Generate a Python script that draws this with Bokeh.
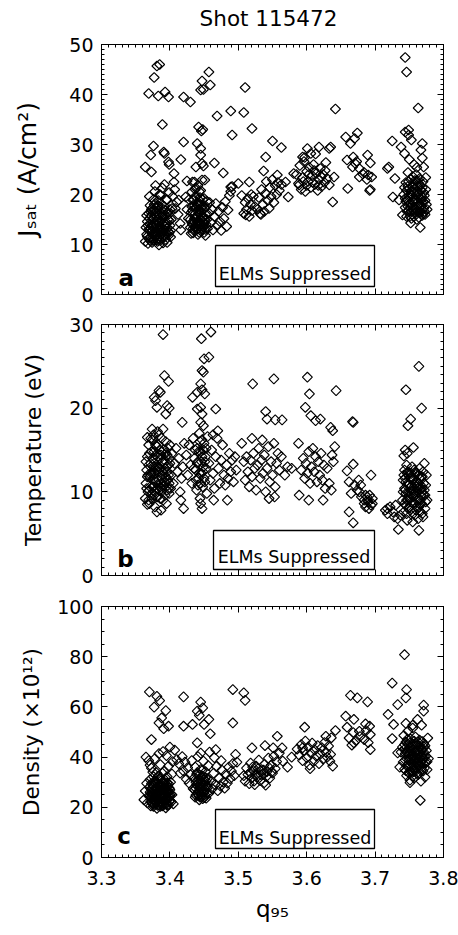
import math
from bokeh.plotting import figure
from bokeh.models import (Range1d, LinearAxis, SingleIntervalTicker, FixedTicker, Label,
                          BoxAnnotation, CustomJSTickFormatter, Div)
from bokeh.layouts import column
from bokeh.embed import file_html
from bokeh.resources import INLINE

FONT = "DejaVu Sans"

# ---------------- data ----------------
title_text = "Shot 115472"
q95_range = (3.3, 3.8)
q95_ticks = [3.3, 3.4, 3.5, 3.6, 3.7, 3.8]
jsat_range = (0, 50)
temp_range = (0, 30)
dens_range = (0, 100)
axis_titles = ["Jₛₐₜ (A/cm²)", "Temperature (eV)", "Density (×10¹²)"]
x_title = "q₉₅"
panel_letters = ["a", "b", "c"]
box_text = "ELMs Suppressed"

jsat_points = [
    (3.369, 40.2), (3.377, 43.4), (3.381, 45.7), (3.385, 46.0), (3.383, 39.7), (3.393, 40.5),
    (3.398, 39.5), (3.389, 34.0), (3.376, 29.7), (3.372, 27.9), (3.391, 28.5), (3.392, 28.2),
    (3.398, 26.5), (3.399, 26.0), (3.364, 25.5), (3.373, 24.5), (3.406, 24.2),
    (3.364, 10.6), (3.366, 12.0), (3.365, 13.4), (3.367, 14.6), (3.366, 15.8), (3.369, 11.2),
    (3.370, 12.8), (3.371, 14.0), (3.372, 16.5), (3.371, 17.8), (3.374, 10.4), (3.375, 11.9),
    (3.376, 13.2), (3.375, 15.1), (3.377, 16.9), (3.376, 19.0), (3.378, 20.6), (3.379, 12.3),
    (3.380, 13.9), (3.381, 15.5), (3.382, 17.4), (3.383, 18.8), (3.381, 10.9), (3.384, 9.9),
    (3.385, 11.6), (3.386, 13.1), (3.387, 14.7), (3.388, 16.2), (3.386, 19.9), (3.389, 21.3),
    (3.389, 12.2), (3.390, 10.3), (3.391, 15.4), (3.392, 17.6), (3.393, 13.5), (3.394, 11.0),
    (3.395, 14.4), (3.396, 18.9), (3.397, 12.6), (3.398, 16.0), (3.399, 20.4), (3.400, 13.8),
    (3.401, 11.5), (3.402, 15.0), (3.403, 17.2), (3.404, 19.6), (3.392, 22.0), (3.379, 21.8),
    (3.383, 12.8), (3.374, 13.9),
    (3.368, 10.2), (3.369, 13.0), (3.370, 15.2), (3.372, 11.4), (3.373, 12.6), (3.373, 15.8),
    (3.374, 17.2), (3.376, 11.0), (3.377, 12.4), (3.378, 14.2), (3.378, 15.6), (3.380, 11.8),
    (3.380, 16.6), (3.382, 10.6), (3.382, 12.0), (3.383, 14.4), (3.384, 16.0), (3.385, 13.6),
    (3.386, 10.8), (3.387, 12.4), (3.388, 18.0), (3.389, 14.2), (3.390, 11.6), (3.391, 13.0),
    (3.392, 12.0), (3.393, 15.8), (3.394, 14.0), (3.395, 12.2), (3.396, 10.4), (3.397, 16.4),
    (3.398, 11.8), (3.399, 14.8), (3.400, 17.0), (3.401, 12.8), (3.379, 18.2), (3.385, 20.0),
    (3.370, 19.6), (3.395, 19.0),
    (3.367, 11.6), (3.368, 13.8), (3.369, 16.2), (3.371, 10.8), (3.372, 13.2), (3.373, 17.0),
    (3.375, 10.8), (3.375, 13.6), (3.376, 15.2), (3.377, 18.0), (3.378, 11.6), (3.379, 16.4),
    (3.380, 14.6), (3.381, 12.6), (3.382, 15.0), (3.383, 17.8), (3.384, 11.0), (3.384, 13.2),
    (3.385, 15.4), (3.386, 12.0), (3.387, 17.0), (3.388, 13.4), (3.389, 15.8), (3.390, 12.8),
    (3.391, 17.0), (3.393, 11.6), (3.394, 16.8), (3.396, 13.2), (3.397, 15.0), (3.399, 12.4),
    (3.407, 21.0), (3.410, 18.5), (3.412, 16.0), (3.415, 14.2), (3.416, 12.9), (3.413, 18.9),
    (3.423, 19.5), (3.408, 17.2), (3.406, 22.5),
    (3.420, 39.5), (3.430, 38.5), (3.445, 40.9), (3.447, 42.7), (3.449, 41.0), (3.457, 44.5),
    (3.459, 41.9), (3.469, 35.7), (3.442, 33.5), (3.446, 32.7), (3.448, 33.0), (3.420, 30.5),
    (3.440, 30.2), (3.445, 29.2), (3.445, 27.9), (3.447, 26.2), (3.449, 25.7), (3.438, 25.5),
    (3.416, 27.0), (3.465, 26.3), (3.478, 24.3), (3.425, 22.7), (3.433, 22.5), (3.451, 22.9),
    (3.425, 17.0), (3.427, 15.2), (3.428, 19.0), (3.430, 13.4), (3.431, 16.4), (3.432, 20.5),
    (3.434, 12.3), (3.435, 14.6), (3.436, 17.8), (3.437, 19.6), (3.438, 21.3), (3.439, 13.0),
    (3.440, 15.8), (3.441, 12.0), (3.442, 17.0), (3.443, 18.8), (3.444, 14.2), (3.445, 20.8),
    (3.446, 12.6), (3.447, 15.4), (3.448, 16.9), (3.449, 13.6), (3.450, 19.2), (3.451, 14.9),
    (3.452, 11.8), (3.453, 17.6), (3.454, 15.0), (3.455, 13.2), (3.457, 16.3), (3.458, 18.4),
    (3.460, 14.4), (3.462, 17.0), (3.463, 12.9), (3.465, 15.6), (3.467, 18.2), (3.469, 13.8),
    (3.471, 16.6), (3.473, 14.6), (3.475, 12.8), (3.477, 17.4), (3.479, 15.2), (3.481, 18.6),
    (3.483, 13.6), (3.485, 16.9), (3.487, 19.8), (3.489, 20.6), (3.491, 21.6), (3.447, 22.9),
    (3.436, 22.5), (3.441, 21.8), (3.500, 22.2), (3.489, 21.5),
    (3.430, 15.0), (3.431, 12.2), (3.432, 17.6), (3.433, 14.0), (3.434, 18.8), (3.435, 12.8),
    (3.436, 16.0), (3.437, 13.6), (3.438, 15.2), (3.439, 17.4), (3.440, 13.8), (3.441, 18.2),
    (3.442, 14.6), (3.443, 12.4), (3.444, 16.4), (3.445, 18.0), (3.446, 14.0), (3.447, 13.2),
    (3.448, 19.0), (3.449, 15.6), (3.450, 12.4), (3.451, 17.2), (3.452, 16.0), (3.453, 14.0),
    (3.454, 18.6), (3.437, 21.0), (3.443, 20.6),
    (3.432, 14.4), (3.433, 16.8), (3.434, 13.2), (3.435, 19.0), (3.436, 15.2), (3.437, 17.2),
    (3.438, 13.6), (3.439, 15.6), (3.440, 18.0), (3.441, 14.2), (3.442, 16.2), (3.443, 13.8),
    (3.444, 19.4), (3.445, 15.0), (3.446, 17.4), (3.447, 13.6), (3.448, 15.2), (3.449, 17.8),
    (3.450, 14.2), (3.452, 13.0),
    (3.505, 19.8), (3.508, 16.2), (3.510, 18.4), (3.512, 17.0), (3.514, 19.2), (3.516, 15.6),
    (3.518, 18.0), (3.520, 16.8), (3.522, 19.6), (3.524, 17.6), (3.511, 15.9), (3.519, 20.0),
    (3.528, 17.0), (3.530, 19.4), (3.532, 16.2), (3.534, 21.0), (3.536, 18.0), (3.538, 16.6),
    (3.540, 20.2), (3.541, 22.6), (3.543, 18.8), (3.545, 17.2), (3.546, 21.4), (3.548, 19.6),
    (3.550, 23.0), (3.552, 18.4), (3.554, 21.8), (3.556, 20.0), (3.558, 22.4), (3.560, 20.8),
    (3.563, 22.0), (3.537, 24.7), (3.533, 16.0),
    (3.550, 30.7), (3.563, 29.4), (3.540, 27.5), (3.557, 23.9), (3.569, 22.5), (3.573, 19.5),
    (3.520, 33.2), (3.508, 36.4), (3.510, 41.4), (3.489, 36.7), (3.491, 31.9), (3.516, 22.5),
    (3.585, 24.0), (3.588, 22.2), (3.590, 25.8), (3.592, 21.0), (3.594, 23.4), (3.596, 26.6),
    (3.598, 20.6), (3.600, 24.6), (3.602, 22.6), (3.604, 25.4), (3.606, 21.4), (3.608, 23.8),
    (3.610, 26.0), (3.612, 22.0), (3.614, 24.2), (3.616, 20.8), (3.618, 23.0), (3.620, 25.2),
    (3.622, 21.6), (3.624, 24.0), (3.626, 22.4), (3.628, 26.4), (3.630, 23.2), (3.597, 27.4),
    (3.606, 28.2), (3.595, 22.6), (3.603, 24.0), (3.609, 22.4), (3.611, 24.8), (3.617, 21.8),
    (3.621, 23.6), (3.627, 24.8), (3.600, 21.8),
    (3.581, 24.2), (3.601, 29.2), (3.594, 27.5), (3.613, 28.1), (3.618, 29.5), (3.635, 29.5),
    (3.633, 29.2), (3.642, 37.1), (3.638, 18.5), (3.633, 21.9), (3.640, 23.5), (3.589, 21.9),
    (3.657, 31.5), (3.664, 30.2), (3.674, 32.3), (3.670, 31.2), (3.659, 26.9), (3.668, 27.5),
    (3.660, 21.2), (3.667, 25.5), (3.671, 26.2), (3.677, 25.2), (3.689, 27.9), (3.693, 26.3),
    (3.684, 24.4), (3.690, 23.9), (3.693, 21.0), (3.695, 23.5), (3.677, 23.5), (3.682, 24.1),
    (3.673, 26.6), (3.688, 23.0), (3.692, 20.8),
    (3.720, 25.5), (3.725, 30.7), (3.718, 25.2), (3.729, 23.2), (3.726, 19.5), (3.735, 18.9),
    (3.740, 15.9), (3.744, 47.4), (3.746, 44.5), (3.763, 37.3), (3.744, 32.5), (3.749, 32.9),
    (3.749, 31.9), (3.753, 30.9), (3.769, 30.2), (3.767, 28.9), (3.769, 27.3), (3.771, 25.5),
    (3.738, 29.5), (3.743, 28.2), (3.766, 13.4), (3.752, 14.3),
    (3.742, 20.0), (3.744, 17.4), (3.745, 22.4), (3.746, 15.6), (3.747, 19.0), (3.748, 24.4),
    (3.749, 16.8), (3.750, 21.2), (3.751, 18.2), (3.752, 23.0), (3.753, 15.2), (3.754, 19.8),
    (3.755, 17.0), (3.756, 22.0), (3.757, 20.6), (3.758, 16.2), (3.759, 18.8), (3.760, 24.0),
    (3.761, 15.0), (3.762, 21.6), (3.763, 17.8), (3.764, 19.4), (3.765, 23.2), (3.766, 16.4),
    (3.767, 20.8), (3.768, 18.4), (3.769, 15.8), (3.770, 22.6), (3.771, 17.2), (3.772, 19.8),
    (3.773, 16.0), (3.774, 21.0), (3.775, 18.0), (3.757, 26.0), (3.750, 27.0), (3.761, 25.4),
    (3.743, 21.4), (3.745, 18.6), (3.747, 16.6), (3.748, 21.6), (3.749, 19.6), (3.751, 15.6),
    (3.752, 17.4), (3.753, 20.6), (3.755, 23.6), (3.756, 18.6), (3.757, 15.6), (3.758, 21.2),
    (3.759, 17.0), (3.760, 19.8), (3.761, 22.8), (3.762, 16.6), (3.763, 20.2), (3.764, 15.4),
    (3.765, 18.2), (3.766, 21.8), (3.767, 17.6), (3.768, 19.6), (3.770, 16.2), (3.771, 20.4),
    (3.773, 18.8), (3.774, 23.4), (3.776, 17.0),
    (3.744, 19.2), (3.746, 20.8), (3.748, 17.6), (3.749, 22.6), (3.750, 18.6), (3.752, 20.0),
    (3.753, 16.6), (3.754, 21.6), (3.756, 16.8), (3.757, 19.0), (3.758, 22.8), (3.760, 17.0),
    (3.761, 20.4), (3.763, 18.6), (3.764, 22.2), (3.765, 16.6), (3.767, 19.2), (3.769, 21.4),
    (3.770, 18.6), (3.772, 16.6),
]

temp_points = [
    (3.390, 28.8), (3.392, 23.9), (3.398, 23.2), (3.384, 22.1), (3.386, 21.9), (3.377, 21.3),
    (3.379, 20.9), (3.381, 20.1), (3.396, 20.3), (3.399, 20.0), (3.394, 19.3), (3.390, 17.5),
    (3.374, 17.5), (3.367, 16.5), (3.418, 18.3),
    (3.446, 28.3), (3.460, 29.1), (3.450, 25.9), (3.457, 26.1), (3.447, 24.5), (3.449, 24.3),
    (3.445, 22.9), (3.447, 22.2), (3.440, 21.9), (3.451, 21.7), (3.433, 21.3), (3.467, 19.9),
    (3.440, 19.9), (3.445, 20.1), (3.447, 19.3), (3.445, 18.3), (3.449, 17.9),
    (3.521, 22.9), (3.552, 23.5), (3.540, 19.6), (3.554, 18.6), (3.564, 18.6), (3.542, 18.7),
    (3.601, 23.7), (3.604, 21.7), (3.598, 20.1), (3.606, 19.1), (3.620, 18.7), (3.643, 22.1),
    (3.613, 18.5), (3.635, 17.7), (3.638, 17.3), (3.668, 18.3), (3.667, 18.4),
    (3.745, 22.2), (3.764, 25.0), (3.768, 20.0), (3.752, 18.7), (3.748, 17.9), (3.756, 15.3),
    (3.742, 14.3),
    (3.662, 7.6), (3.668, 6.3), (3.734, 5.5), (3.764, 5.4), (3.718, 8.0), (3.728, 7.0),
    (3.624, 9.0), (3.589, 9.6), (3.603, 9.0), (3.484, 9.0), (3.464, 9.0), (3.447, 8.0),
    (3.420, 8.0), (3.381, 7.6), (3.367, 8.5),
    (3.694, 12.0), (3.696, 8.6), (3.689, 9.0), (3.659, 12.5), (3.668, 13.3), (3.677, 10.0),
    (3.679, 10.8), (3.686, 9.6), (3.684, 9.0),
    (3.364, 9.2), (3.365, 11.0), (3.366, 12.6), (3.367, 14.2), (3.368, 10.0), (3.369, 15.6),
    (3.370, 8.6), (3.371, 11.8), (3.372, 13.4), (3.373, 9.6), (3.374, 16.2), (3.375, 12.2),
    (3.376, 10.6), (3.377, 14.8), (3.378, 8.2), (3.379, 13.0), (3.380, 11.2), (3.381, 15.4),
    (3.382, 9.4), (3.383, 12.4), (3.384, 16.8), (3.385, 10.2), (3.386, 14.0), (3.387, 7.8),
    (3.388, 11.6), (3.389, 13.6), (3.390, 9.0), (3.391, 15.0), (3.392, 10.8), (3.393, 12.8),
    (3.394, 16.0), (3.395, 8.6), (3.396, 14.4), (3.397, 11.4), (3.398, 13.2), (3.399, 9.8),
    (3.400, 15.6), (3.401, 10.4), (3.402, 12.0), (3.403, 14.6), (3.405, 11.0), (3.407, 13.4),
    (3.409, 15.2), (3.411, 12.4), (3.413, 14.0), (3.415, 10.0), (3.417, 11.6), (3.419, 13.0),
    (3.421, 15.8), (3.416, 9.0),
    (3.365, 13.6), (3.366, 10.4), (3.368, 12.0), (3.369, 9.0), (3.370, 14.6), (3.371, 10.6),
    (3.372, 16.4), (3.373, 12.2), (3.374, 9.2), (3.375, 14.0), (3.376, 11.6), (3.377, 13.4),
    (3.378, 10.0), (3.379, 15.6), (3.380, 9.4), (3.381, 12.6), (3.382, 14.2), (3.383, 10.8),
    (3.384, 13.0), (3.385, 15.0), (3.386, 9.2), (3.387, 11.0), (3.388, 14.8), (3.389, 10.2),
    (3.390, 12.4), (3.391, 11.2), (3.392, 13.8), (3.393, 9.6), (3.394, 11.8), (3.395, 13.0),
    (3.396, 10.2), (3.397, 15.2), (3.398, 12.0), (3.399, 11.0), (3.400, 13.4), (3.382, 17.2),
    (3.388, 16.4), (3.376, 16.8),
    (3.367, 11.8), (3.369, 13.2), (3.370, 10.2), (3.372, 12.0), (3.373, 14.8), (3.375, 10.6),
    (3.376, 13.0), (3.377, 9.6), (3.378, 12.2), (3.379, 14.4), (3.381, 10.4), (3.382, 13.0),
    (3.383, 15.6), (3.384, 11.4), (3.385, 12.8), (3.386, 10.6), (3.387, 14.4), (3.389, 12.0),
    (3.390, 10.6), (3.391, 13.4), (3.393, 11.2), (3.394, 14.6), (3.396, 12.4), (3.398, 10.4),
    (3.399, 14.0),
    (3.424, 14.4), (3.426, 12.0), (3.428, 15.6), (3.430, 13.2), (3.432, 11.0), (3.434, 16.4),
    (3.436, 14.0), (3.438, 12.6), (3.439, 10.2), (3.440, 15.2), (3.441, 13.6), (3.442, 11.6),
    (3.443, 17.0), (3.444, 9.2), (3.445, 14.8), (3.446, 12.2), (3.447, 16.2), (3.448, 10.6),
    (3.449, 13.0), (3.450, 15.8), (3.451, 11.2), (3.452, 14.2), (3.453, 12.8), (3.454, 9.8),
    (3.455, 16.6), (3.445, 8.6),
    (3.435, 12.8), (3.437, 15.0), (3.438, 11.4), (3.440, 13.4), (3.441, 10.8), (3.442, 14.8),
    (3.443, 12.2), (3.444, 16.0), (3.445, 11.0), (3.446, 13.6), (3.447, 14.2), (3.448, 12.4),
    (3.449, 15.0), (3.450, 11.6), (3.451, 13.6), (3.453, 15.2),
    (3.457, 13.4), (3.459, 11.4), (3.461, 15.0), (3.463, 12.2), (3.465, 10.4), (3.467, 14.2),
    (3.469, 16.4), (3.471, 12.8), (3.473, 11.0), (3.475, 13.8), (3.477, 15.6), (3.479, 12.0),
    (3.481, 10.8), (3.483, 13.2), (3.485, 11.6), (3.487, 14.6), (3.489, 12.4), (3.491, 13.8),
    (3.493, 11.2), (3.495, 14.2), (3.497, 12.6), (3.470, 17.3), (3.463, 16.8),
    (3.505, 15.8), (3.508, 13.6), (3.510, 11.4), (3.512, 14.2), (3.514, 12.4), (3.516, 10.6),
    (3.518, 13.8), (3.520, 11.8), (3.522, 14.6), (3.524, 12.8), (3.526, 10.2), (3.528, 13.2),
    (3.530, 15.2), (3.532, 11.6), (3.534, 13.8), (3.536, 12.2), (3.538, 14.4), (3.540, 10.0),
    (3.542, 12.8), (3.544, 15.4), (3.546, 11.2), (3.548, 13.6), (3.550, 12.0), (3.552, 15.8),
    (3.554, 10.6), (3.556, 13.4), (3.558, 14.6), (3.560, 12.6), (3.545, 9.2), (3.553, 9.4),
    (3.520, 16.4), (3.535, 16.2),
    (3.563, 14.2), (3.568, 12.0), (3.572, 13.0), (3.578, 12.8),
    (3.588, 15.8), (3.592, 12.6), (3.595, 14.0), (3.597, 11.6), (3.599, 13.4), (3.601, 12.2),
    (3.603, 14.8), (3.605, 11.0), (3.607, 13.0), (3.609, 15.2), (3.611, 12.4), (3.613, 14.2),
    (3.615, 11.2), (3.617, 13.6), (3.619, 12.0), (3.621, 14.6), (3.623, 11.4), (3.625, 13.2),
    (3.627, 10.4), (3.630, 12.8), (3.633, 11.0), (3.636, 10.2), (3.639, 13.6), (3.641, 15.4),
    (3.637, 14.4),
    (3.662, 11.2), (3.665, 9.8), (3.670, 10.8), (3.674, 10.2), (3.680, 9.4), (3.684, 8.6),
    (3.686, 8.2), (3.688, 9.4), (3.690, 8.8), (3.692, 9.6), (3.694, 8.4), (3.696, 9.2),
    (3.691, 8.0), (3.676, 11.4),
    (3.715, 7.8), (3.718, 7.4), (3.722, 8.2), (3.726, 7.6), (3.730, 8.4), (3.733, 6.8),
    (3.737, 7.2),
    (3.740, 9.0), (3.741, 11.4), (3.742, 7.6), (3.743, 12.6), (3.744, 10.2), (3.745, 8.4),
    (3.746, 13.2), (3.747, 6.6), (3.748, 11.0), (3.749, 9.4), (3.750, 12.2), (3.751, 7.8),
    (3.752, 10.6), (3.753, 8.8), (3.754, 13.0), (3.755, 6.4), (3.756, 11.6), (3.757, 9.8),
    (3.758, 7.2), (3.759, 12.4), (3.760, 10.0), (3.761, 8.2), (3.762, 11.2), (3.763, 6.8),
    (3.764, 9.2), (3.765, 12.8), (3.766, 7.6), (3.767, 10.4), (3.768, 8.6), (3.769, 11.8),
    (3.770, 7.0), (3.771, 9.6), (3.772, 13.4), (3.773, 8.0), (3.774, 10.8), (3.775, 12.0),
    (3.776, 9.0), (3.747, 14.6), (3.744, 15.0),
    (3.741, 10.0), (3.742, 12.0), (3.743, 8.6), (3.744, 11.6), (3.745, 9.8), (3.746, 7.4),
    (3.747, 12.2), (3.748, 9.0), (3.749, 10.8), (3.750, 8.2), (3.751, 11.6), (3.752, 9.4),
    (3.753, 12.2), (3.754, 7.6), (3.755, 10.2), (3.756, 8.6), (3.757, 12.6), (3.758, 9.6),
    (3.759, 11.0), (3.760, 7.8), (3.761, 10.6), (3.762, 9.0), (3.763, 12.0), (3.764, 8.2),
    (3.765, 10.6), (3.766, 9.0), (3.767, 11.8), (3.768, 10.0), (3.769, 7.4), (3.770, 12.4),
    (3.772, 10.2), (3.774, 8.8),
    (3.743, 10.4), (3.745, 11.2), (3.746, 9.0), (3.748, 12.4), (3.749, 8.0), (3.750, 10.0),
    (3.752, 11.8), (3.753, 9.8), (3.755, 11.4), (3.756, 9.4), (3.758, 10.8), (3.759, 8.6),
    (3.761, 12.2), (3.762, 10.4), (3.764, 11.0), (3.765, 8.6), (3.767, 9.6), (3.769, 10.6),
    (3.771, 11.0), (3.773, 9.6),
]

dens_points = [
    (3.370, 66.0), (3.381, 64.2), (3.377, 59.9), (3.385, 62.5), (3.384, 53.6), (3.388, 55.6),
    (3.394, 58.5), (3.391, 51.3), (3.398, 52.3), (3.373, 47.0), (3.365, 40.0), (3.371, 36.8),
    (3.420, 64.0), (3.420, 52.3), (3.433, 53.0), (3.440, 58.3), (3.445, 61.9), (3.448, 59.6),
    (3.443, 56.6), (3.450, 53.0), (3.457, 55.0), (3.459, 49.3), (3.440, 45.7), (3.467, 43.0),
    (3.492, 66.9), (3.492, 53.6), (3.508, 65.6), (3.510, 62.6), (3.496, 41.1),
    (3.520, 43.7), (3.539, 44.6), (3.557, 48.3), (3.551, 43.7), (3.564, 43.7),
    (3.597, 51.9), (3.594, 43.7), (3.657, 56.3), (3.664, 64.6), (3.674, 63.6), (3.689, 62.0),
    (3.669, 55.0), (3.659, 51.9), (3.677, 50.3), (3.686, 53.2), (3.692, 52.3), (3.693, 49.0),
    (3.693, 43.0), (3.666, 44.8), (3.669, 45.7), (3.642, 50.6), (3.636, 47.7), (3.638, 36.4),
    (3.635, 41.1), (3.628, 48.3),
    (3.743, 80.8), (3.725, 69.5), (3.746, 66.9), (3.745, 63.6), (3.733, 60.9), (3.719, 57.0),
    (3.727, 53.0), (3.755, 52.7), (3.768, 52.7), (3.771, 60.7), (3.771, 58.3), (3.725, 47.4),
    (3.733, 41.7), (3.766, 22.8), (3.751, 29.8),
    (3.362, 23.0), (3.364, 26.5), (3.366, 29.5), (3.367, 21.8), (3.369, 24.6), (3.370, 28.0),
    (3.371, 31.0), (3.372, 20.6), (3.373, 23.4), (3.374, 26.0), (3.375, 29.0), (3.376, 32.2),
    (3.377, 21.2), (3.378, 24.0), (3.379, 27.4), (3.380, 30.2), (3.381, 19.6), (3.382, 22.6),
    (3.383, 25.6), (3.384, 28.6), (3.385, 31.6), (3.386, 20.4), (3.387, 23.8), (3.388, 26.8),
    (3.389, 29.6), (3.390, 21.6), (3.391, 24.8), (3.392, 27.8), (3.393, 30.8), (3.394, 19.8),
    (3.395, 22.8), (3.396, 25.8), (3.397, 28.4), (3.398, 21.0), (3.399, 24.2), (3.400, 27.0),
    (3.401, 30.0), (3.402, 22.2), (3.403, 25.0), (3.405, 21.4), (3.380, 33.8), (3.373, 35.6),
    (3.386, 37.0), (3.392, 34.4), (3.398, 36.4), (3.404, 38.2), (3.378, 39.4), (3.395, 40.6),
    (3.390, 42.2), (3.400, 44.0), (3.384, 41.4), (3.369, 38.6), (3.407, 42.8), (3.410, 39.0),
    (3.413, 37.4), (3.403, 33.2),
    (3.372, 24.0), (3.373, 27.2), (3.374, 22.0), (3.375, 25.6), (3.376, 20.4), (3.376, 28.6),
    (3.377, 23.2), (3.378, 26.4), (3.379, 21.8), (3.379, 30.6), (3.380, 24.8), (3.381, 27.6),
    (3.382, 20.8), (3.382, 29.4), (3.383, 23.0), (3.384, 26.0), (3.385, 21.8), (3.385, 24.2),
    (3.386, 28.0), (3.387, 30.6), (3.387, 22.4), (3.388, 25.0), (3.389, 20.6), (3.389, 27.0),
    (3.390, 23.6), (3.391, 29.2), (3.392, 21.2), (3.392, 25.6), (3.393, 27.4), (3.394, 23.4),
    (3.395, 26.6), (3.396, 20.8), (3.396, 29.6), (3.397, 23.6), (3.398, 25.8), (3.399, 27.6),
    (3.400, 22.6), (3.401, 25.4), (3.383, 32.4), (3.389, 33.6), (3.375, 34.0), (3.396, 32.2),
    (3.371, 26.0), (3.372, 22.2), (3.373, 29.4), (3.374, 24.6), (3.375, 21.4), (3.376, 26.8),
    (3.377, 29.8), (3.378, 22.6), (3.379, 25.2), (3.380, 28.0), (3.381, 23.2), (3.382, 26.2),
    (3.383, 28.6), (3.384, 21.0), (3.385, 26.6), (3.386, 23.2), (3.387, 27.8), (3.388, 21.6),
    (3.389, 24.4), (3.390, 28.4), (3.391, 22.4), (3.392, 30.0), (3.393, 24.6), (3.394, 26.4),
    (3.395, 21.4), (3.396, 24.0), (3.397, 26.8), (3.398, 29.4), (3.399, 22.4), (3.400, 24.8),
    (3.420, 34.4), (3.422, 38.0), (3.424, 31.2), (3.426, 35.8), (3.428, 29.6), (3.430, 33.0),
    (3.432, 38.6), (3.434, 27.4), (3.436, 31.8), (3.437, 36.0), (3.438, 24.8), (3.439, 29.0),
    (3.440, 33.8), (3.441, 40.2), (3.442, 26.4), (3.443, 23.0), (3.444, 30.6), (3.445, 35.0),
    (3.446, 27.8), (3.447, 24.2), (3.448, 32.4), (3.449, 38.4), (3.450, 26.0), (3.451, 29.8),
    (3.452, 34.2), (3.453, 23.6), (3.454, 28.4), (3.455, 31.4), (3.456, 36.6), (3.457, 25.6),
    (3.458, 42.0), (3.445, 41.6), (3.415, 33.6), (3.418, 40.2),
    (3.436, 27.0), (3.437, 24.0), (3.438, 30.0), (3.439, 33.2), (3.440, 25.6), (3.441, 28.2),
    (3.442, 31.2), (3.443, 26.6), (3.444, 24.0), (3.445, 29.4), (3.446, 32.2), (3.447, 26.6),
    (3.448, 23.4), (3.449, 28.6), (3.450, 31.0), (3.451, 25.0), (3.452, 27.2), (3.453, 30.4),
    (3.454, 25.6), (3.455, 27.8),
    (3.438, 27.6), (3.440, 30.4), (3.442, 24.6), (3.444, 27.8), (3.446, 25.2), (3.448, 29.8),
    (3.450, 23.8), (3.452, 31.8), (3.447, 34.6), (3.443, 32.8),
    (3.460, 30.2), (3.462, 27.4), (3.464, 33.6), (3.466, 29.0), (3.468, 36.2), (3.470, 26.6),
    (3.472, 31.6), (3.474, 28.4), (3.476, 34.8), (3.478, 30.0), (3.480, 27.6), (3.482, 33.2),
    (3.484, 29.6), (3.486, 36.0), (3.488, 31.4), (3.490, 34.4), (3.492, 37.4), (3.494, 32.6),
    (3.465, 39.8), (3.475, 38.6), (3.498, 38.0),
    (3.508, 32.6), (3.510, 30.4), (3.512, 35.6), (3.514, 33.0), (3.516, 29.4), (3.518, 37.6),
    (3.520, 31.8), (3.522, 34.6), (3.524, 29.0), (3.526, 36.4), (3.528, 32.2), (3.530, 38.8),
    (3.532, 30.6), (3.534, 35.0), (3.536, 33.2), (3.538, 37.0), (3.540, 28.8), (3.542, 34.2),
    (3.544, 39.6), (3.546, 31.6), (3.548, 36.8), (3.550, 33.6), (3.552, 40.4), (3.554, 35.4),
    (3.556, 38.2), (3.538, 29.8), (3.560, 41.6), (3.565, 38.4), (3.572, 36.0), (3.578, 40.0),
    (3.517, 33.8), (3.521, 36.0), (3.525, 32.6), (3.529, 35.4), (3.533, 33.0), (3.537, 34.8),
    (3.541, 32.2), (3.545, 35.8), (3.549, 34.2), (3.523, 30.4),
    (3.586, 43.2), (3.589, 40.8), (3.592, 45.0), (3.594, 38.6), (3.596, 42.4), (3.598, 46.4),
    (3.600, 39.8), (3.602, 44.0), (3.604, 36.8), (3.606, 41.6), (3.608, 45.6), (3.610, 38.2),
    (3.612, 42.8), (3.614, 40.4), (3.616, 44.6), (3.618, 37.4), (3.620, 41.2), (3.622, 43.8),
    (3.624, 39.2), (3.626, 45.8), (3.628, 42.0), (3.630, 40.0), (3.632, 44.4), (3.634, 38.4),
    (3.605, 35.4),
    (3.662, 47.6), (3.668, 49.8), (3.672, 46.6), (3.678, 48.2), (3.684, 47.0), (3.690, 45.8),
    (3.687, 50.6),
    (3.740, 44.0), (3.741, 38.0), (3.742, 48.6), (3.743, 35.2), (3.744, 41.4), (3.745, 46.0),
    (3.746, 32.6), (3.747, 39.2), (3.748, 50.4), (3.749, 36.4), (3.750, 43.6), (3.751, 30.8),
    (3.752, 47.2), (3.753, 34.0), (3.754, 40.6), (3.755, 45.2), (3.756, 37.2), (3.757, 31.6),
    (3.758, 42.4), (3.759, 48.0), (3.760, 35.6), (3.761, 39.8), (3.762, 44.8), (3.763, 33.0),
    (3.764, 41.0), (3.765, 46.8), (3.766, 36.8), (3.767, 30.4), (3.768, 43.0), (3.769, 38.6),
    (3.770, 34.4), (3.771, 45.4), (3.772, 40.2), (3.773, 32.0), (3.774, 37.8), (3.775, 42.6),
    (3.776, 35.0), (3.777, 47.6), (3.778, 39.4), (3.755, 51.6), (3.745, 53.4), (3.762, 55.0),
    (3.738, 42.0), (3.736, 36.0),
    (3.743, 45.0), (3.744, 38.8), (3.745, 34.6), (3.746, 42.4), (3.747, 47.0), (3.748, 37.0),
    (3.749, 40.6), (3.750, 33.6), (3.751, 45.6), (3.752, 39.0), (3.753, 42.4), (3.754, 36.0),
    (3.755, 32.4), (3.756, 44.0), (3.757, 39.6), (3.758, 36.0), (3.759, 41.6), (3.760, 45.6),
    (3.761, 33.6), (3.762, 38.2), (3.763, 42.6), (3.764, 36.6), (3.765, 39.8), (3.766, 44.0),
    (3.767, 34.6), (3.768, 40.0), (3.769, 46.2), (3.770, 37.6), (3.771, 42.0), (3.772, 35.6),
    (3.773, 44.6), (3.774, 40.4), (3.776, 38.2),
    (3.744, 43.4), (3.746, 36.6), (3.747, 41.6), (3.748, 45.2), (3.749, 33.8), (3.750, 38.8),
    (3.751, 42.2), (3.753, 37.6), (3.754, 44.4), (3.755, 40.0), (3.756, 34.2), (3.757, 46.4),
    (3.758, 38.6), (3.759, 34.4), (3.760, 42.6), (3.761, 37.4), (3.762, 41.2), (3.763, 46.0),
    (3.764, 39.0), (3.766, 41.6), (3.767, 38.0), (3.768, 35.8), (3.769, 43.4), (3.771, 39.4),
    (3.772, 44.0),
]

# ---------------- layout helpers ----------------
FL, FW = 101, 342
x_minor = [round(q95_range[0] + 0.01 * i, 2) for i in range(51)]


def make_conv(ft, fh, yr):
    def conv(px, py):
        x = q95_range[0] + (px - FL) / FW * (q95_range[1] - q95_range[0])
        y = yr[1] - (py - ft) / fh * (yr[1] - yr[0])
        return x, y
    return conv


def lab(p, conv, px, py, text, size, bold=False, align="left"):
    x, y = conv(px, py)
    p.add_layout(Label(x=x, y=y, text=text, text_font=FONT,
                       text_font_size=f"{size}px",
                       text_font_style="bold" if bold else "normal",
                       text_align=align, text_baseline="alphabetic",
                       text_color="black"))


blank = CustomJSTickFormatter(code="return ''")


def style_axis(ax, ticker, show):
    ax.ticker = ticker
    ax.major_tick_in = 6
    ax.major_tick_out = 0
    ax.minor_tick_in = 3
    ax.minor_tick_out = 0
    ax.axis_line_color = "black"
    ax.major_tick_line_color = "black"
    ax.minor_tick_line_color = "black"
    ax.major_label_text_font = FONT
    ax.major_label_text_font_size = "19px"
    ax.major_label_text_color = "black"
    ax.axis_label_text_font = FONT
    ax.axis_label_text_font_style = "normal"
    ax.axis_label_text_color = "black"
    if not show:
        ax.formatter = blank
        ax.major_label_standoff = 0


def make_panel(points, yr, ytick, yminor, ft, fh, top, bottom, show_x,
               ytitle, ysize, ystand):
    p = figure(frame_width=FW, frame_height=fh,
               x_range=Range1d(*q95_range), y_range=Range1d(*yr),
               output_backend="svg", toolbar_location=None, title=None,
               min_border_left=FL, min_border_right=15,
               min_border_top=top, min_border_bottom=bottom)
    p.background_fill_color = "white"
    p.border_fill_color = "white"
    p.outline_line_color = "black"
    p.xgrid.visible = False
    p.ygrid.visible = False
    p.add_layout(LinearAxis(), "above")
    p.add_layout(LinearAxis(), "right")
    for ax in p.xaxis:
        show = show_x and ax in p.below
        style_axis(ax, FixedTicker(ticks=q95_ticks, minor_ticks=x_minor), show)
        if show:
            ax.major_label_standoff = 13
            ax.axis_label = x_title
            ax.axis_label_text_font_size = "23px"
            ax.axis_label_standoff = 8
    for ax in p.yaxis:
        show = ax in p.left
        style_axis(ax, SingleIntervalTicker(interval=ytick, num_minor_ticks=yminor), show)
        if show:
            ax.major_label_standoff = 8
            ax.axis_label = ytitle
            ax.axis_label_text_font_size = f"{ysize}px"
            ax.axis_label_standoff = ystand
    xs = [pt[0] for pt in points]
    ys = [pt[1] for pt in points]
    p.scatter(x=xs, y=ys, marker="square", angle=math.pi / 4, size=7,
              fill_color=None, line_color="black", line_width=1.15)
    return p, make_conv(ft, fh, yr)


def add_box(p, conv, l, r, t, b, text_base):
    x0, y0 = conv(l, b)
    x1, y1 = conv(r, t)
    p.add_layout(BoxAnnotation(left=x0, right=x1, bottom=y0, top=y1,
                               fill_color=None, fill_alpha=0,
                               line_color="black", line_alpha=1.0, line_width=1.3))
    lab(p, conv, (l + r) / 2, text_base, box_text, 17.5, align="center")


# title strip
TH = 30
title_html = (
    '<div style="box-sizing:border-box;width:458px;height:30px;margin:0;'
    'padding:8px 0 0 79px;text-align:center;white-space:nowrap;'
    f'font-family:\'{FONT}\';font-size:21.5px;line-height:21.5px;color:black;">'
    f'{title_text}</div>'
)
tf = Div(text=title_html, width=458, height=TH, margin=0)

# panel a
pa, ca = make_panel(jsat_points, jsat_range, 10, 10, 44, 250, 44 - TH, 15, False,
                    axis_titles[0], 25, 24)
lab(pa, ca, 118, 277.7, panel_letters[0], 23, bold=True)
add_box(pa, ca, 215, 374, 245, 286, 273)

# panel b
pb, cb = make_panel(temp_points, temp_range, 10, 10, 324, 251, 15, 15, False,
                    axis_titles[1], 22, 20)
lab(pb, cb, 116.7, 558.3, panel_letters[1], 23, bold=True)
add_box(pb, cb, 213, 374, 530, 569, 556.7)

# panel c
pc, cc = make_panel(dens_points, dens_range, 20, 4, 606, 251, 16, 78, True,
                    axis_titles[2], 21.5, 10)
lab(pc, cc, 116.7, 835, panel_letters[2], 23, bold=True)
add_box(pc, cc, 215, 374, 809, 848, 837.3)

layout = column(tf, pa, pb, pc, spacing=0)
open("out.html", "w").write(file_html(layout, INLINE))
